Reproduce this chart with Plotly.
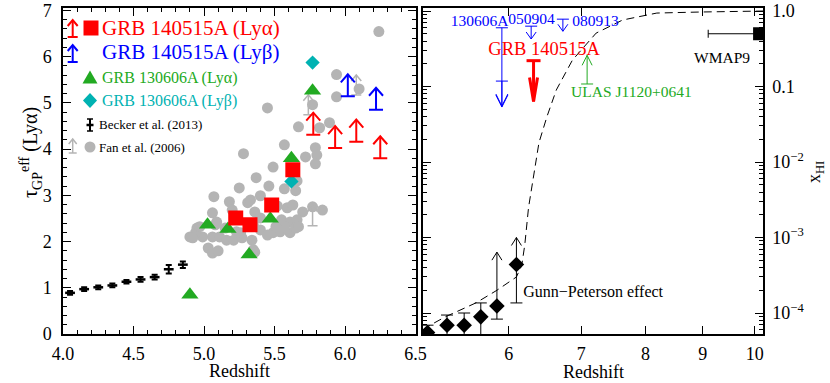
import math
import plotly.graph_objects as go

W, H = 830, 383
FONT = "Liberation Serif, Times New Roman, DejaVu Serif, serif"
RED = "#ff0000"
BLUE = "#0000ff"
GREEN = "#22aa22"
CYAN = "#00b2b2"
GRAY = "#b4b4b4"

# ---------------- left panel data (tau_GP^eff) ----------------
becker_z = [4.05, 4.15, 4.25, 4.35, 4.45, 4.55, 4.65, 4.75, 4.85]
becker_tau = [0.89, 0.97, 1.01, 1.05, 1.13, 1.18, 1.23, 1.40, 1.50]
becker_err = [0.04, 0.04, 0.04, 0.04, 0.04, 0.05, 0.05, 0.09, 0.07]

fan_z = [6.24, 5.94, 6.10, 5.94, 5.45, 5.77, 5.67, 5.89, 5.82, 5.57, 5.79, 5.80, 5.28, 5.72,
         5.79, 5.49, 5.37, 5.66, 5.25, 5.46, 5.57, 5.65, 5.40, 5.07, 5.18, 5.31, 5.52, 5.84,
         5.77, 5.70, 5.59, 5.06, 5.33, 5.36, 5.20, 5.63, 5.40, 5.55, 5.61, 5.66, 4.95, 5.09,
         5.15, 5.23, 5.35, 5.40, 5.54, 5.61, 4.90, 4.99, 4.94, 5.06, 5.11, 5.16, 5.21, 5.27,
         5.34, 5.45, 5.49, 5.03, 5.06, 5.10, 5.36, 5.57, 5.65, 5.08, 4.97, 5.26, 5.35, 5.67,
         5.51, 4.92]
fan_tau = [6.54, 5.61, 5.30, 5.13, 4.89, 4.96, 4.48, 4.57, 4.46, 4.09, 4.03, 3.87, 3.90, 3.83,
           3.68, 3.61, 3.38, 3.31, 3.16, 3.20, 3.14, 3.10, 2.99, 2.97, 2.86, 2.84, 2.77, 2.68,
           2.75, 2.64, 2.73, 2.62, 2.90, 2.64, 2.68, 2.79, 2.51, 2.47, 2.42, 2.47, 2.29, 2.42,
           2.29, 2.21, 2.36, 2.25, 2.21, 2.19, 2.10, 2.10, 2.19, 2.10, 2.10, 2.03, 2.03, 2.08,
           2.03, 2.14, 2.19, 1.86, 1.75, 1.80, 1.77, 2.32, 2.29, 2.36, 2.32, 2.19, 1.82, 2.32,
           2.32, 2.08]
fan_lim_z = [5.74, 6.08, 5.77]
fan_lim_tau = [4.74, 5.17, 2.34]

grb14_a_z = [5.225, 5.326, 5.48, 5.63]
grb14_a_tau = [2.51, 2.36, 2.79, 3.55]
grb14_a_lim_z = [5.775, 5.93, 6.08, 6.25]
grb14_a_lim_tau = [4.31, 4.02, 4.16, 3.80]
grb14_b_lim_z = [6.02, 6.22]
grb14_b_lim_tau = [5.14, 4.85]

grb13_a_z = [4.90, 5.025, 5.17, 5.32, 5.47, 5.62, 5.77]
grb13_a_tau = [0.85, 2.36, 2.27, 1.72, 2.49, 3.80, 5.26]
grb13_b_z = [5.62, 5.77]
grb13_b_tau = [3.30, 5.87]

left_xticks = [4.0, 4.5, 5.0, 5.5, 6.0, 6.5]
left_yticks = [0, 1, 2, 3, 4, 5, 6, 7]

# ---------------- right panel data (x_HI) ----------------
fanx_z = [5.03, 5.25, 5.45, 5.65, 5.85, 6.10]
fanx_xhi = [5.5e-5, 6.9e-5, 6.9e-5, 8.9e-5, 1.24e-4, 4.4e-4]
fanx_hi = [6.9e-5, 9.4e-5, 1.0e-4, 1.36e-4, None, None]
fanx_lo = [2e-5, 2e-5, 2e-5, 2e-5, 8.3e-5, 1.36e-4]
fanx_lowlim = [None, None, None, None, 6.4e-4, 1.0e-3]

model_z = [4.98, 5.04, 5.23, 5.59, 5.85, 6.10, 6.17, 6.21, 6.26, 6.33, 6.40, 6.51, 6.64, 6.87,
           7.22, 7.63, 8.19, 8.95, 9.91, 10.2]
model_xhi = [6.0e-5, 6.7e-5, 8.9e-5, 1.36e-4, 2.0e-4, 3.0e-4, 4.3e-4, 8e-4, 2.5e-3, 7.1e-3,
             0.018, 0.040, 0.090, 0.224, 0.51, 0.76, 0.94, 0.97, 1.0, 1.0]

ul_130606_z = [5.913, 5.913]
ul_130606_x = [0.60, 0.118]
ul_130606_len = [1.05, 0.33]
ul_small_z = [6.295, 6.733]
ul_small_x = [0.63, 0.78]
ul_small_len = [0.17, 0.16]
ul_140515_z = [6.327]
ul_140515_x = [0.22]
ul_140515_len = [0.54]
ll_ulas_z = [7.085]
ll_ulas_x = [0.108]
ll_ulas_len = [0.38]

wmap_z = [10.1]
wmap_x = [0.5]
wmap_dz = [1.0]

rtext = ["130606A", "050904", "080913", "GRB 140515A", "ULAS J1120+0641", "WMAP9"]
rtext_z = [5.635, 6.30, 7.21, 6.47, 7.77, 9.36]
rtext_x = [0.72, 0.76, 0.72, 0.304, 0.082, 0.231]
rtext_color = [BLUE, BLUE, BLUE, RED, GREEN, "black"]
rtext_size = [15.5, 15.5, 15.5, 18.5, 15.5, 15.5]
gp_z = [6.19]
gp_x = [1.84e-4]

right_xtick_z = [6, 7, 8, 9, 10]
right_yticks = [1e-4, 1e-3, 1e-2, 0.1, 1.0]
right_yticklabels = ["10<sup>\u22124</sup>", "10<sup>\u22123</sup>", "10<sup>\u22122</sup>", "0.1", "1.0"]

# ---------------- geometry ----------------
L_X0, L_X1 = 63, 415.5
R_X0, R_X1 = 423, 763
Y_TOP, Y_BOT = 8, 334
LX_RANGE = [4.0, 6.5]
LY_RANGE = [0.0, 7.05]
RX_RANGE = [math.log10(5.98), math.log10(11.17)]
RY_RANGE = [-4.278, 0.04]

lxp = (L_X1 - L_X0) / (LX_RANGE[1] - LX_RANGE[0])
lyp = (Y_BOT - Y_TOP) / (LY_RANGE[1] - LY_RANGE[0])
rxp = (R_X1 - R_X0) / (RX_RANGE[1] - RX_RANGE[0])
ryp = (Y_BOT - Y_TOP) / (RY_RANGE[1] - RY_RANGE[0])


def lin_arrows(xs, ys, length_px, cap_px, hw_px, hh_px, sign=1):
    X, Y = [], []
    for x, y in zip(xs, ys):
        tip = y + sign * length_px / lyp
        cw, hw, hh = cap_px / lxp, hw_px / lxp, hh_px / lyp
        if cap_px:
            X += [x - cw, x + cw, None]
            Y += [y, y, None]
        X += [x, x, None]
        Y += [y, tip, None]
        X += [x - hw, x, x + hw, None]
        Y += [tip - sign * hh, tip, tip - sign * hh, None]
    return X, Y


def log_arrows(zs, vs, lens, sign, cap_px, hw_px, hh_px):
    X, Y = [], []
    for z, v, L in zip(zs, vs, lens):
        lx = math.log10(1 + z)
        ly = math.log10(v)
        tip = ly + sign * L
        cw, hw, hh = cap_px / rxp, hw_px / rxp, hh_px / ryp
        if cap_px:
            X += [10 ** (lx - cw), 10 ** (lx + cw), None]
            Y += [v, v, None]
        X += [1 + z, 1 + z, None]
        Y += [v, 10 ** tip, None]
        X += [10 ** (lx - hw), 1 + z, 10 ** (lx + hw), None]
        Y += [10 ** (tip - sign * hh), 10 ** tip, 10 ** (tip - sign * hh), None]
    return X, Y


fig = go.Figure()

# ---- left panel ----
fig.add_trace(go.Scatter(x=fan_z, y=fan_tau, mode="markers",
                         marker=dict(symbol="circle", size=11, color=GRAY),
                         xaxis="x", yaxis="y"))
X, Y = lin_arrows(fan_lim_z, fan_lim_tau, 20, 5, 5, 6)
fig.add_trace(go.Scatter(x=X, y=Y, mode="lines", line=dict(color=GRAY, width=1.5),
                         xaxis="x", yaxis="y"))
fig.add_trace(go.Scatter(x=grb13_a_z, y=grb13_a_tau, mode="markers",
                         marker=dict(symbol="triangle-up", size=15, color=GREEN),
                         xaxis="x", yaxis="y"))
fig.add_trace(go.Scatter(x=grb13_b_z, y=grb13_b_tau, mode="markers",
                         marker=dict(symbol="diamond", size=11, color=CYAN),
                         xaxis="x", yaxis="y"))
fig.add_trace(go.Scatter(x=grb14_a_z, y=grb14_a_tau, mode="markers",
                         marker=dict(symbol="square", size=15, color=RED),
                         xaxis="x", yaxis="y"))
X, Y = lin_arrows(grb14_a_lim_z, grb14_a_lim_tau, 22, 7, 7, 8)
fig.add_trace(go.Scatter(x=X, y=Y, mode="lines", line=dict(color=RED, width=2),
                         xaxis="x", yaxis="y"))
X, Y = lin_arrows(grb14_b_lim_z, grb14_b_lim_tau, 22, 7, 7, 8)
fig.add_trace(go.Scatter(x=X, y=Y, mode="lines", line=dict(color=BLUE, width=2),
                         xaxis="x", yaxis="y"))
fig.add_trace(go.Scatter(x=becker_z, y=becker_tau, mode="markers",
                         marker=dict(symbol="line-ew", size=7, color="black",
                                     line=dict(color="black", width=2.5)),
                         error_y=dict(type="data", array=becker_err, color="black",
                                      thickness=2, width=3),
                         xaxis="x", yaxis="y"))

# ---- right panel ----
fig.add_trace(go.Scatter(x=[1 + z for z in model_z], y=model_xhi, mode="lines",
                         line=dict(color="black", width=1, dash="8px,5px"),
                         xaxis="x2", yaxis="y2"))
err_up = [(h - v) if h is not None else 0 for h, v in zip(fanx_hi, fanx_xhi)]
err_dn = [v - lo for lo, v in zip(fanx_lo, fanx_xhi)]
fig.add_trace(go.Scatter(x=[1 + z for z in fanx_z], y=fanx_xhi, mode="markers",
                         marker=dict(symbol="diamond", size=12, color="black"),
                         error_y=dict(type="data", array=err_up, arrayminus=err_dn,
                                      color="black", thickness=1, width=6),
                         xaxis="x2", yaxis="y2"))
ll_z = [z for z, t in zip(fanx_z, fanx_lowlim) if t is not None]
ll_v = [v for v, t in zip(fanx_xhi, fanx_lowlim) if t is not None]
ll_len = [math.log10(t / v) for v, t in zip(fanx_xhi, fanx_lowlim) if t is not None]
X, Y = log_arrows(ll_z, ll_v, ll_len, +1, 0, 5, 8)
fig.add_trace(go.Scatter(x=X, y=Y, mode="lines", line=dict(color="black", width=1),
                         xaxis="x2", yaxis="y2"))
X, Y = log_arrows(ul_130606_z, ul_130606_x, ul_130606_len, -1, 6, 6, 12)
fig.add_trace(go.Scatter(x=X, y=Y, mode="lines", line=dict(color=BLUE, width=1),
                         xaxis="x2", yaxis="y2"))
X, Y = log_arrows(ul_small_z, ul_small_x, ul_small_len, -1, 6, 5, 7)
fig.add_trace(go.Scatter(x=X, y=Y, mode="lines", line=dict(color=BLUE, width=1),
                         xaxis="x2", yaxis="y2"))
X, Y = log_arrows(ul_140515_z, ul_140515_x, ul_140515_len, -1, 7, 4, 24)
fig.add_trace(go.Scatter(x=X, y=Y, mode="lines", line=dict(color=RED, width=3),
                         xaxis="x2", yaxis="y2"))
X, Y = log_arrows(ll_ulas_z, ll_ulas_x, ll_ulas_len, +1, 6, 5, 10)
fig.add_trace(go.Scatter(x=X, y=Y, mode="lines", line=dict(color=GREEN, width=1),
                         xaxis="x2", yaxis="y2"))
fig.add_trace(go.Scatter(x=[1 + z for z in wmap_z], y=wmap_x, mode="markers",
                         marker=dict(symbol="square", size=13, color="black"),
                         error_x=dict(type="data", array=wmap_dz, arrayminus=wmap_dz,
                                      color="black", thickness=1, width=4),
                         xaxis="x2", yaxis="y2"))
fig.add_trace(go.Scatter(x=[1 + z for z in rtext_z], y=rtext_x, mode="text", text=rtext,
                         textposition="middle center", cliponaxis=False,
                         textfont=dict(family=FONT, size=rtext_size, color=rtext_color),
                         xaxis="x2", yaxis="y2"))
fig.add_trace(go.Scatter(x=[1 + z for z in gp_z], y=gp_x, mode="text",
                         text=["Gunn\u2212Peterson effect"], textposition="middle right",
                         cliponaxis=False,
                         textfont=dict(family=FONT, size=16, color="black"),
                         xaxis="x2", yaxis="y2"))

# ---------------- legend (drawn in paper coordinates) ----------------
def P(px, py):
    return px / W, 1 - py / H


shapes = []


def seg(x0, y0, x1, y1, color, width):
    a, b = P(x0, y0)
    c, d = P(x1, y1)
    shapes.append(dict(type="line", xref="paper", yref="paper", x0=a, y0=b, x1=c, y1=d,
                       line=dict(color=color, width=width)))


def path(pts, color, fill=True, width=0):
    s = "M " + " L ".join("%.5f,%.5f" % P(x, y) for x, y in pts) + (" Z" if fill else "")
    d = dict(type="path", xref="paper", yref="paper", path=s,
             line=dict(color=color, width=width))
    if fill:
        d["fillcolor"] = color
        d["line"] = dict(color=color, width=0)
    shapes.append(d)


def legend_arrow(x, ycap, ytip, color, width, cap, hw, hh):
    seg(x - cap, ycap, x + cap, ycap, color, width)
    seg(x, ycap, x, ytip, color, width)
    path([(x - hw, ytip + hh), (x, ytip), (x + hw, ytip + hh)], color, fill=False, width=width)


legend_arrow(72.7, 37, 20, RED, 2, 5, 5, 6)
path([(83.5, 20.5), (98.5, 20.5), (98.5, 35.5), (83.5, 35.5)], RED)
legend_arrow(72.7, 62, 45, BLUE, 2, 5, 5, 6)
path([(82.5, 83.5), (97.5, 83.5), (90, 70.5)], GREEN)
path([(83, 100.5), (90, 93), (97, 100.5), (90, 108)], CYAN)
seg(90, 119, 90, 131, "black", 2)
seg(87, 119, 93, 119, "black", 1.5)
seg(87, 131, 93, 131, "black", 1.5)
seg(86.5, 125, 93.5, 125, "black", 2.5)
legend_arrow(72.7, 153, 139, GRAY, 1.5, 4, 4, 5)
cx0, cy0 = P(84.5, 141.5)
cx1, cy1 = P(95.5, 152.5)
shapes.append(dict(type="circle", xref="paper", yref="paper", x0=cx0, y0=cy1, x1=cx1, y1=cy0,
                   fillcolor=GRAY, line=dict(color=GRAY, width=0)))

annotations = []


def label(px, py, text, color, size, xanchor="left", angle=0):
    a, b = P(px, py)
    annotations.append(dict(xref="paper", yref="paper", x=a, y=b, text=text, showarrow=False,
                            xanchor=xanchor, yanchor="middle", textangle=angle,
                            font=dict(family=FONT, size=size, color=color)))


label(100, 28, "GRB 140515A (Ly\u03b1)", RED, 21)
label(100, 52, "GRB 140515A (Ly\u03b2)", BLUE, 21)
label(100, 77.5, "GRB 130606A (Ly\u03b1)", GREEN, 16)
label(100, 100.5, "GRB 130606A (Ly\u03b2)", CYAN, 16)
label(96.5, 125, "Becker et al. (2013)", "black", 13)
label(96.5, 147, "Fan et al. (2006)", "black", 13)
label(31, 153, "\u03c4<sub>GP</sub><sup>eff</sup> (Ly\u03b1)", "black", 20, "center", -90)
label(815, 172, "x<sub>HI</sub>", "black", 18, "center", -90)
label(239, 371, "Redshift", "black", 18, "center")
label(593, 372, "Redshift", "black", 18, "center")

axis_common = dict(showline=True, linecolor="black", linewidth=1.5, mirror="ticks",
                   ticks="inside", ticklen=8, tickwidth=1, tickcolor="black",
                   showgrid=False, zeroline=False, automargin=False,
                   tickfont=dict(family=FONT, size=18, color="black"))

fig.update_layout(
    template="none",
    font=dict(family=FONT, color="black"),
    width=W, height=H, autosize=False,
    margin=dict(l=0, r=0, t=0, b=0, pad=0, autoexpand=False),
    paper_bgcolor="white", plot_bgcolor="white",
    showlegend=False,
    shapes=shapes, annotations=annotations,
    xaxis=dict(domain=[L_X0 / W, L_X1 / W], range=LX_RANGE, anchor="y",
               tickmode="array", tickvals=left_xticks,
               ticktext=["%.1f" % t for t in left_xticks], ticklabelstandoff=3,
               minor=dict(dtick=0.1, tick0=4.0, ticklen=4, ticks="inside",
                          tickcolor="black"),
               **axis_common),
    yaxis=dict(domain=[1 - Y_BOT / H, 1 - Y_TOP / H], range=LY_RANGE, anchor="x",
               tickmode="array", tickvals=left_yticks, ticklabelstandoff=6,
               minor=dict(dtick=0.2, tick0=0, ticklen=4, ticks="inside",
                          tickcolor="black"),
               **axis_common),
    xaxis2=dict(domain=[R_X0 / W, R_X1 / W], type="log", range=RX_RANGE, anchor="y2",
                tickmode="array", tickvals=[1 + z for z in right_xtick_z],
                ticktext=[str(z) for z in right_xtick_z], ticklabelstandoff=3,
                **axis_common),
    yaxis2=dict(domain=[1 - Y_BOT / H, 1 - Y_TOP / H], type="log", range=RY_RANGE,
                anchor="x2", side="right",
                tickmode="array", tickvals=right_yticks, ticktext=right_yticklabels,
                ticklabelstandoff=4,
                minor=dict(tickmode="array",
                           tickvals=[m * 10 ** k for k in range(-5, 1) for m in range(2, 10)],
                           ticklen=4, ticks="inside", tickcolor="black"),
                **axis_common),
)

fig.write_html("out.html",
               config={"displayModeBar": False},
               post_script="document.body.style.margin='0';"
                           "document.body.style.overflow='hidden';")
